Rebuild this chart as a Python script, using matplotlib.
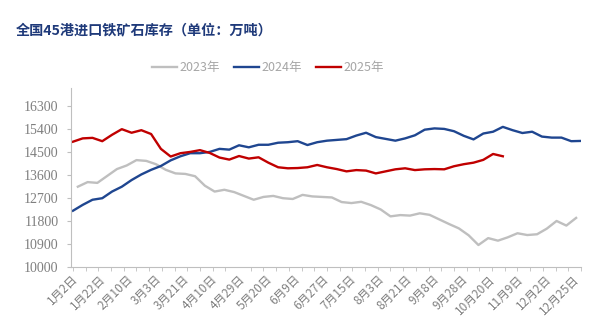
import numpy as np
import matplotlib
matplotlib.use('Agg')
from matplotlib import pyplot as plt

plt.rcParams['font.family'] = ['Noto Sans CJK SC', 'DejaVu Sans']

# weekly 45-port iron ore inventory (10k t)
inv_2023 = [13140, 13320, 13290, 13560, 13830, 13970, 14180, 14150, 14020, 13800,
            13660, 13640, 13550, 13180, 12950, 13020, 12930, 12780, 12630, 12740,
            12780, 12690, 12660, 12820, 12760, 12740, 12720, 12540, 12500, 12550,
            12420, 12250, 11980, 12030, 12010, 12100, 12040, 11860, 11680, 11510,
            11240, 10860, 11130, 11030, 11160, 11320, 11250, 11280, 11500, 11800,
            11620, 11920]
inv_2024 = [12200, 12430, 12630, 12690, 12950, 13140, 13400, 13620, 13800, 13950,
            14170, 14330, 14450, 14450, 14500, 14620, 14590, 14760, 14680, 14780,
            14780, 14860, 14880, 14920, 14770, 14880, 14940, 14970, 15000, 15140,
            15250, 15080, 15010, 14940, 15030, 15150, 15370, 15420, 15400, 15310,
            15130, 14990, 15220, 15290, 15480, 15350, 15240, 15290, 15100, 15060,
            15060, 14920, 14930]
inv_2025 = [14900, 15030, 15050, 14920, 15170, 15390, 15250, 15350, 15200, 14620,
            14320, 14450, 14500, 14570, 14460, 14280, 14200, 14340, 14240, 14290,
            14080, 13900, 13860, 13870, 13900, 13990, 13900, 13830, 13740, 13790,
            13770, 13660, 13740, 13820, 13860, 13790, 13820, 13830, 13820, 13940,
            14020, 14080, 14190, 14420, 14330]

date_labels = ['1月2日', '1月22日', '2月10日', '3月3日', '3月21日', '4月10日', '4月29日',
               '5月20日', '6月9日', '6月27日', '7月15日', '8月3日', '8月21日', '9月8日',
               '9月28日', '10月20日', '11月9日', '12月2日', '12月25日']

series = [('2023年', inv_2023, 0.5, '#BFBFBF'),
          ('2024年', inv_2024, 0.0, '#1F4690'),
          ('2025年', inv_2025, 0.0, '#C00000')]

fig = plt.figure(figsize=(6.1, 3.35), dpi=100)
ax = fig.add_axes([71/610, 1-267/335, 510/610, 179/335])

for name, vals, start, col in series:
    x = start + np.arange(len(vals))
    ax.plot(x, vals, color=col, lw=1.7, label=name)

ax.set_xlim(0, 52)
ax.set_ylim(10000, 17000)
ax.set_yticks(np.arange(10000, 16301, 900))
ax.tick_params(axis='y', length=3, color='#BFBFBF', labelcolor='#7F7F7F', pad=6)
for t in ax.get_yticklabels():
    t.set_fontfamily('Liberation Serif')
    t.set_fontsize(10)

# labels on their own positions, tick marks on a finer grid
ax.set_xticks(np.linspace(-0.2, 51.1, len(date_labels)))
ax.set_xticklabels(date_labels, rotation=45, ha='right', va='top',
                   rotation_mode='anchor', fontsize=8.5, color='#7F7F7F')
ax.set_xticks(np.linspace(0, 52, 41), minor=True)
ax.tick_params(axis='x', which='major', length=0, pad=4)
ax.tick_params(axis='x', which='minor', length=3, color='#BFBFBF')

for s in ['top', 'right']:
    ax.spines[s].set_visible(False)
for s in ['left', 'bottom']:
    ax.spines[s].set_color('#BFBFBF')

fig.text(16/610, 1-30/335, '全国45港进口铁矿石库存（单位：万吨）', fontsize=10.2,
         fontweight='bold', color='#1F3A7A', va='center', ha='left')

leg = fig.legend(loc='center', bbox_to_anchor=(268/610, 1-68/335), ncol=3, frameon=False,
                 fontsize=9, handlelength=2.0, columnspacing=1.1, handletextpad=0.2)
for t in leg.get_texts():
    t.set_color('#A6A6A6')

plt.savefig('out.png', dpi=100)
